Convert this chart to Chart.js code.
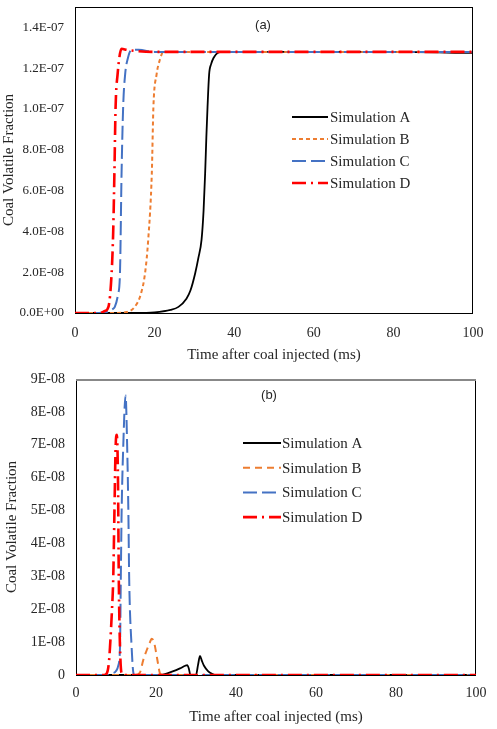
<!DOCTYPE html>
<html>
<head>
<meta charset="utf-8">
<script src="https://cdn.jsdelivr.net/npm/chart.js@4.4.0/dist/chart.umd.min.js"></script>
<style>
  html, body { margin: 0; padding: 0; background: #fff; }
  #wrap { position: relative; width: 497px; height: 729px; }
  .box { position: absolute; left: 0; width: 497px; }
  #boxA { top: 0; height: 366px; }
  #boxB { top: 366px; height: 363px; }
</style>
</head>
<body>
<div id="wrap">
  <div class="box" id="boxA"><canvas id="chartA"></canvas></div>
  <div class="box" id="boxB"><canvas id="chartB"></canvas></div>
</div>
<script>
const UNIT = 1e-8;
const seriesNames = ['Simulation A', 'Simulation B', 'Simulation C', 'Simulation D'];

// panel (a): cumulative volatile fraction
const tA_a = [0, 15, 20, 24, 26, 28, 29, 30.2, 31, 31.8, 32.3, 32.7, 33.0, 33.3, 33.7, 34.2, 34.8, 35.8, 37, 60, 80, 100];
const vA_a = [0, 0, 0.03, 0.15, 0.3, 0.7, 1.1, 1.95, 2.7, 3.6, 5.0, 6.85, 8.6, 10.1, 11.7, 12.2, 12.5, 12.75, 12.8, 12.8, 12.8, 12.75];
const tB_a = [0, 10, 13, 15, 16.5, 17.6, 18.4, 19.3, 19.7, 20.5, 21.3, 22.2, 24, 60, 100];
const vB_a = [0, 0, 0.05, 0.3, 0.9, 1.95, 3.6, 6.85, 10.1, 11.7, 12.4, 12.8, 12.8, 12.8, 12.8];
const tC_a = [0, 6, 8, 9.5, 10, 10.8, 11.3, 11.7, 12.1, 12.6, 13.3, 14.2, 16, 20, 100];
const vC_a = [0, 0, 0.05, 0.2, 0.3, 0.9, 1.95, 6.85, 10.1, 11.7, 12.5, 12.9, 12.9, 12.8, 12.8];
const tD_a = [0, 6, 7.5, 8.4, 9.2, 9.6, 9.9, 10.2, 10.7, 11.7, 13, 15, 20, 100];
const vD_a = [0, 0, 0.1, 0.3, 1.95, 4.0, 6.85, 10.1, 11.7, 12.95, 12.9, 12.85, 12.8, 12.8];

// panel (b): instantaneous volatile fraction
const tA_b = [0, 21, 22, 24, 26, 27.3, 27.8, 28.2, 28.6, 30, 30.5, 31, 31.5, 32, 33, 34, 35, 100];
const vA_b = [0, 0, 0.02, 0.1, 0.2, 0.28, 0.3, 0.2, 0, 0, 0.3, 0.58, 0.42, 0.28, 0.12, 0.04, 0, 0];
const tB_b = [0, 15, 16, 16.8, 17.7, 18.5, 18.9, 19.5, 20, 20.5, 21, 22, 100];
const vB_b = [0, 0, 0.08, 0.45, 0.76, 1.0, 1.1, 1.0, 0.7, 0.35, 0.05, 0, 0];
const tC_b = [0, 8, 9, 10, 10.6, 11, 11.2, 11.4, 11.8, 12.4, 12.8, 13.1, 13.3, 13.9, 14.3, 14.6, 100];
const vC_b = [0, 0, 0.05, 0.12, 0.3, 0.86, 2.9, 4.9, 6.9, 8.5, 6.9, 4.9, 2.9, 0.86, 0.1, 0, 0];
const tD_b = [0, 7, 7.7, 8.2, 8.5, 9.0, 9.3, 9.6, 9.9, 10.2, 10.5, 10.7, 11.0, 11.4, 12, 100];
const vD_b = [0, 0, 0.05, 0.35, 0.85, 2.0, 2.9, 4.9, 6.9, 7.3, 5.9, 2.9, 0.86, 0.05, 0, 0];

// tick labels
const xTickLabels = ['0', '20', '40', '60', '80', '100'];
const yTickLabelsA = ['0.0E+00', '2.0E-08', '4.0E-08', '6.0E-08', '8.0E-08', '1.0E-07', '1.2E-07', '1.4E-07'];
const yTickLabelsB = ['0', '1E-08', '2E-08', '3E-08', '4E-08', '5E-08', '6E-08', '7E-08', '8E-08', '9E-08'];

const pts = (ts, vs) => ts.map((t, i) => ({ x: t, y: vs[i] * UNIT }));
const pick = (labels, step) => v => {
  const i = Math.round(v / step);
  if (Math.abs(v - i * step) > step * 1e-3) return null;
  return labels[i];
};

// frame round the plot area, drawn under the curves; legend and panel tag on top
const overlay = {
  id: 'overlay',
  beforeDatasetsDraw(chart, args, o) {
    const { ctx, chartArea: a } = chart;
    ctx.save();
    ctx.setLineDash([]);
    ctx.lineWidth = 1;
    ctx.strokeStyle = o.frame || '#000';
    ctx.strokeRect(a.left + 0.5, a.top + 0.5, a.right - a.left - 1, a.bottom - a.top);
    if (o.topColor) {
      ctx.strokeStyle = o.topColor;
      ctx.lineWidth = 2;
      ctx.beginPath(); ctx.moveTo(a.left, a.top + 1); ctx.lineTo(a.right, a.top + 1); ctx.stroke();
    }
    ctx.restore();
  },
  afterDatasetsDraw(chart, args, o) {
    const { ctx } = chart;
    ctx.save();
    chart.data.datasets.forEach((ds, i) => {
      const y = o.legendY + i * o.legendGap;
      ctx.strokeStyle = ds.borderColor;
      ctx.lineWidth = ds.borderWidth;
      ctx.setLineDash(ds.borderDash || []);
      ctx.beginPath(); ctx.moveTo(o.lineX1, y); ctx.lineTo(o.lineX2, y); ctx.stroke();
      ctx.setLineDash([]);
      ctx.fillStyle = '#262626';
      ctx.font = '15px "Liberation Serif", "Times New Roman", serif';
      ctx.textBaseline = 'middle';
      ctx.textAlign = 'left';
      ctx.fillText(ds.label, o.textX, y + 1);
    });
    ctx.font = '13px "Liberation Sans", Arial, sans-serif';
    ctx.fillStyle = '#262626';
    ctx.textAlign = 'center';
    ctx.fillText(o.tag, o.tagX, o.tagY);
    ctx.restore();
  }
};

function makeDatasets(p) {
  return [
    { label: seriesNames[0], data: pts(p[0], p[1]), borderColor: '#000000', borderWidth: 1.8, borderDash: [], order: 4 },
    { label: seriesNames[1], data: pts(p[2], p[3]), borderColor: '#ED7D31', borderWidth: 2, borderDash: p[8], order: 3 },
    { label: seriesNames[2], data: pts(p[4], p[5]), borderColor: '#4472C4', borderWidth: 2, borderDash: [14, 5], order: 2 },
    { label: seriesNames[3], data: pts(p[6], p[7]), borderColor: '#FF0000', borderWidth: 2.6, borderDash: [14, 5, 2, 5], order: 1 }
  ].map(d => Object.assign(d, { pointRadius: 0, fill: false, cubicInterpolationMode: 'monotone' }));
}

const serif = '"Liberation Serif", "Times New Roman", serif';

function makeChart(id, cfg) {
  return new Chart(document.getElementById(id), {
    type: 'line',
    data: { datasets: makeDatasets(cfg.series) },
    plugins: [overlay],
    options: {
      responsive: true,
      maintainAspectRatio: false,
      animation: false,
      layout: { padding: { top: cfg.padTop, right: cfg.padRight, left: 0, bottom: 0 } },
      plugins: {
        legend: { display: false },
        tooltip: { enabled: false },
        overlay: cfg.overlay
      },
      scales: {
        x: {
          type: 'linear', min: 0, max: 100,
          grid: { display: false, drawTicks: false }, border: { display: false },
          ticks: { stepSize: 20, padding: cfg.xTickPad, color: '#262626', font: { family: serif, size: 14 }, callback: pick(xTickLabels, 20), maxRotation: 0 },
          title: { display: true, text: 'Time after coal injected (ms)', color: '#262626', font: { family: serif, size: 15 }, padding: { top: 0, bottom: cfg.xTitlePad } },
          afterFit: s => { s.height = cfg.xHeight; s.paddingLeft = 0; s.paddingRight = 0; }
        },
        y: {
          type: 'linear', min: 0, max: cfg.yMax,
          grid: { display: false, drawTicks: false }, border: { display: false },
          ticks: { stepSize: cfg.yStep, padding: 11, color: '#262626', font: { family: serif, size: cfg.yFont }, callback: pick(cfg.yLabels, cfg.yStep) },
          title: { display: true, text: 'Coal Volatile Fraction', color: '#262626', font: { family: serif, size: 15 }, padding: { top: cfg.yTitlePad, bottom: 0 } },
          afterFit: s => { s.width = cfg.yWidth; s.paddingTop = 0; s.paddingBottom = 0; }
        }
      }
    }
  });
}

makeChart('chartA', {
  series: [tA_a, vA_a, tB_a, vB_a, tC_a, vC_a, tD_a, vD_a, [4, 3]],
  padTop: 7, padRight: 24, xHeight: 53, yWidth: 75, xTickPad: 12, xTitlePad: 2, yTitlePad: 0,
  yMax: 15 * UNIT, yStep: 2 * UNIT, yLabels: yTickLabelsA, yFont: 13,
  overlay: { lineX1: 292, lineX2: 328, textX: 330, legendY: 117, legendGap: 22, tag: '(a)', tagX: 263, tagY: 25 }
});

makeChart('chartB', {
  series: [tA_b, vA_b, tB_b, vB_b, tC_b, vC_b, tD_b, vD_b, [7, 5]],
  padTop: 13, padRight: 21, xHeight: 54, yWidth: 76, xTickPad: 10, xTitlePad: 3, yTitlePad: 3,
  yMax: 9 * UNIT, yStep: UNIT, yLabels: yTickLabelsB, yFont: 14,
  overlay: { lineX1: 243, lineX2: 281, textX: 282, legendY: 77, legendGap: 24.7, tag: '(b)', tagX: 269, tagY: 29, topColor: '#888' }
});
</script>
</body>
</html>
